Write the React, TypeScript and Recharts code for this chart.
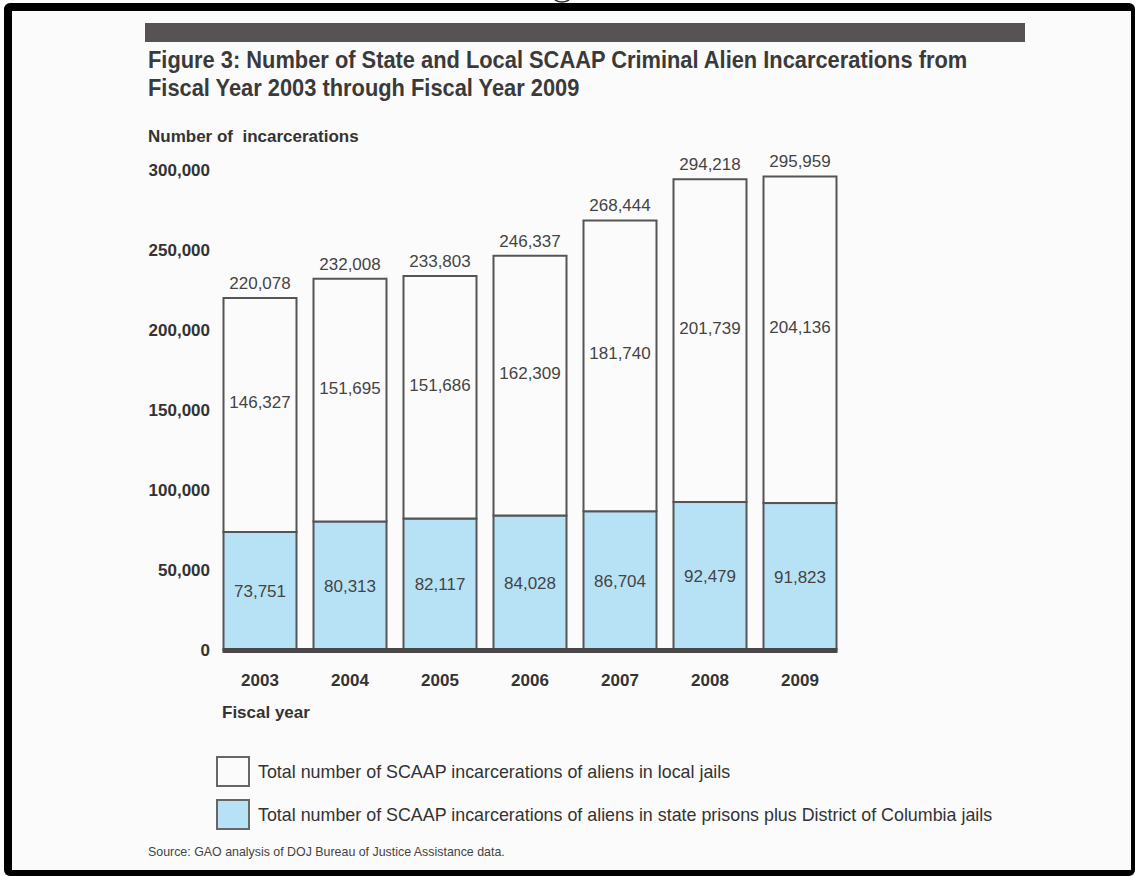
import { BarChart, Bar, XAxis, YAxis, LabelList, Legend } from "recharts";

// values
const years = ["2003", "2004", "2005", "2006", "2007", "2008", "2009"];
const stateValues = [73751, 80313, 82117, 84028, 86704, 92479, 91823];
const localValues = [146327, 151695, 151686, 162309, 181740, 201739, 204136];
const totalValues = [220078, 232008, 233803, 246337, 268444, 294218, 295959];
const yTicks = [0, 50000, 100000, 150000, 200000, 250000, 300000];

const data = years.map((year, i) => ({
  year,
  state: stateValues[i],
  local: localValues[i],
  total: totalValues[i],
}));

const SANS = '"Liberation Sans", Arial, sans-serif';
const INK = "#333";
const BLUE = "#b7e2f6";
const PAPER = "#fbfbfc";

const fmt = (v: number) => Number(v).toLocaleString("en-US");

// blue segment plus the heavy baseline running under it
const StateBar = (props: any) => {
  const { x, y, width, height, index } = props;
  const left = index > 0 ? x - 9 : x - 1;
  const right = index < years.length - 1 ? x + width + 9 : x + width + 1;
  return (
    <g>
      <rect x={x} y={y} width={width} height={height} fill={BLUE} stroke="#555" strokeWidth={2} />
      <rect x={left} y={y + height - 2} width={right - left} height={5} fill="#4a4748" />
    </g>
  );
};

const localLabel = (props: any) => {
  const vb = props.viewBox ?? props;
  const { x, y, width, height } = vb;
  return (
    <text
      x={x + width / 2}
      y={y + height / 2 - 12}
      textAnchor="middle"
      dominantBaseline="central"
      fontSize={17}
      fill="#444"
      fontFamily={SANS}
    >
      {fmt(props.value)}
    </text>
  );
};

const renderLegend = (props: any) => {
  const items = props.payload ?? [];
  return (
    <div>
      {items.map((item: any) => (
        <div key={item.value} style={{ display: "flex", alignItems: "center", height: 43 }}>
          <div
            style={{
              width: 34,
              height: 31,
              boxSizing: "border-box",
              border: "2px solid #666",
              background: item.color,
              flex: "none",
            }}
          />
          <span
            style={{
              marginLeft: 8,
              fontFamily: SANS,
              fontSize: 19,
              color: INK,
              display: "inline-block",
              whiteSpace: "nowrap",
              transform: "scaleX(0.94)",
              transformOrigin: "left center",
            }}
          >
            {item.value}
          </span>
        </div>
      ))}
    </div>
  );
};

export default function App() {
  return (
    <div
      style={{
        position: "absolute",
        left: 0,
        top: 0,
        width: 1135,
        height: 876,
        background: "#fff",
        overflow: "hidden",
      }}
    >
      {/* tail of a glyph from the page above */}
      <svg style={{ position: "absolute", left: 550, top: 0 }} width={24} height={4}>
        <path d="M5 0 Q12 4 19 0" stroke="#333" strokeWidth={1.5} fill="none" />
      </svg>

      {/* scan frame */}
      <div
        style={{
          position: "absolute",
          left: 4,
          top: 3,
          width: 1131,
          height: 873,
          boxSizing: "border-box",
          borderStyle: "solid",
          borderColor: "#000",
          borderWidth: "8px 4px 6px 8px",
          borderRadius: 6,
          background: PAPER,
        }}
      />

      <div style={{ position: "absolute", left: 145, top: 23, width: 880, height: 19, background: "#575354" }} />

      <div
        style={{
          position: "absolute",
          left: 148,
          top: 46,
          fontFamily: SANS,
          fontWeight: "bold",
          fontSize: 24,
          lineHeight: "28px",
          color: "#3a3a3a",
          whiteSpace: "nowrap",
          transform: "scaleX(0.91)",
          transformOrigin: "left top",
        }}
      >
        Figure 3: Number of State and Local SCAAP Criminal Alien Incarcerations from
        <br />
        Fiscal Year 2003 through Fiscal Year 2009
      </div>

      <div
        style={{
          position: "absolute",
          left: 148,
          top: 127,
          fontFamily: SANS,
          fontWeight: "bold",
          fontSize: 17,
          color: INK,
        }}
      >
        Number of&nbsp; incarcerations
      </div>

      <div
        style={{
          position: "absolute",
          left: 222,
          top: 703,
          fontFamily: SANS,
          fontWeight: "bold",
          fontSize: 17,
          color: INK,
        }}
      >
        Fiscal year
      </div>

      <div
        style={{
          position: "absolute",
          left: 148,
          top: 845,
          fontFamily: SANS,
          fontSize: 12.4,
          color: "#444",
        }}
      >
        Source: GAO analysis of DOJ Bureau of Justice Assistance data.
      </div>

      <div style={{ position: "absolute", left: 0, top: 0 }}>
        <BarChart
          width={1135}
          height={876}
          data={data}
          margin={{ top: 170, right: 290, left: 155, bottom: 196 }}
          barCategoryGap={8.5}
        >
          <XAxis
            dataKey="year"
            axisLine={false}
            tickLine={false}
            tickSize={0}
            tickMargin={24}
            height={30}
            tick={{ fill: INK, fontSize: 17, fontWeight: "bold", fontFamily: SANS }}
          />
          <YAxis
            domain={[0, 300000]}
            ticks={yTicks}
            axisLine={false}
            tickLine={false}
            tickSize={0}
            tickMargin={5}
            width={60}
            interval={0}
            tickFormatter={fmt}
            tick={{ fill: INK, fontSize: 17, fontWeight: "bold", fontFamily: SANS }}
          />
          <Legend
            layout="vertical"
            align="center"
            verticalAlign="middle"
            content={renderLegend}
            wrapperStyle={{ left: 216, top: 750, width: 850 }}
          />
          <Bar
            dataKey="state"
            stackId="a"
            name="Total number of SCAAP incarcerations of aliens in state prisons plus District of Columbia jails"
            fill={BLUE}
            shape={StateBar}
            isAnimationActive={false}
          >
            <LabelList
              dataKey="state"
              position="center"
              formatter={fmt}
              style={{ fill: "#444", fontSize: 17, fontFamily: SANS }}
            />
          </Bar>
          <Bar
            dataKey="local"
            stackId="a"
            name="Total number of SCAAP incarcerations of aliens in local jails"
            fill={PAPER}
            stroke="#555"
            strokeWidth={2}
            isAnimationActive={false}
          >
            <LabelList dataKey="local" content={localLabel} />
            <LabelList
              dataKey="total"
              position="top"
              offset={9}
              formatter={fmt}
              style={{ fill: "#444", fontSize: 17, fontFamily: SANS }}
            />
          </Bar>
        </BarChart>
      </div>
    </div>
  );
}
